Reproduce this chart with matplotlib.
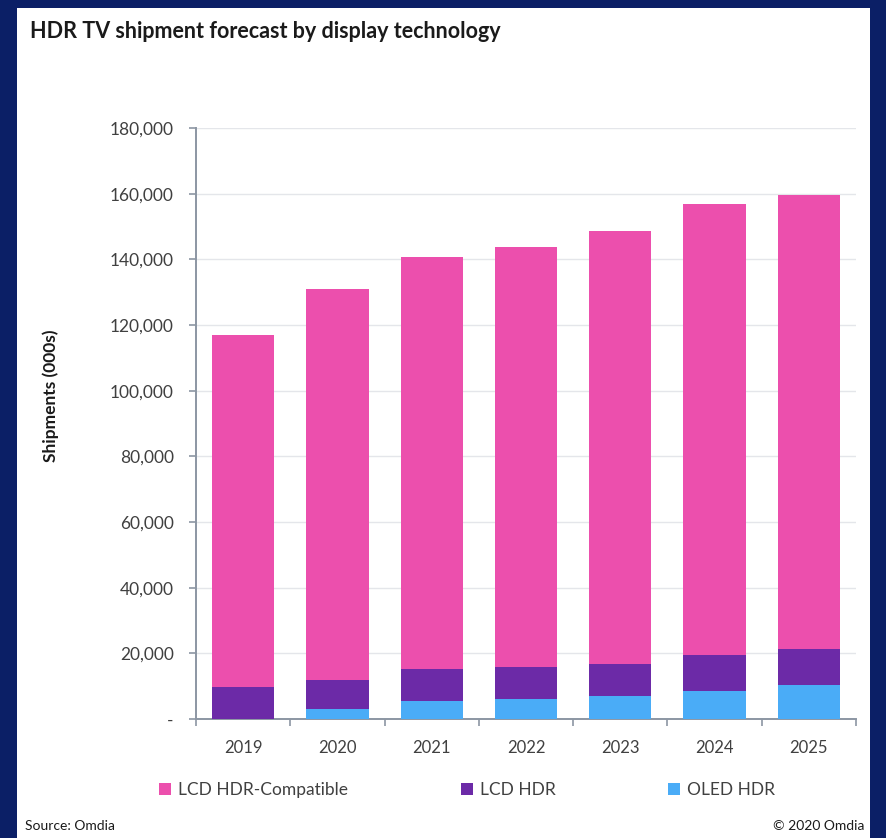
import matplotlib.pyplot as plt
from matplotlib.patches import Rectangle
from matplotlib.ticker import FuncFormatter
import numpy as np

plt.rcParams["font.family"] = ["Lato", "DejaVu Sans"]

NAVY = "#0b1f66"
PINK = "#ec4fad"
PURPLE = "#6c2aa7"
BLUE = "#4aacf7"
AXIS = "#8c96a3"
TXT = "#404040"

years = ["2019", "2020", "2021", "2022", "2023", "2024", "2025"]
oled_hdr = [0, 3100, 5400, 6200, 7100, 8500, 10300]
lcd_hdr = [9700, 8900, 9700, 9700, 9700, 11000, 10900]
lcd_hdr_compatible = [107400, 118900, 125500, 127900, 131800, 137500, 138400]
y_ticks = [0, 20000, 40000, 60000, 80000, 100000, 120000, 140000, 160000, 180000]

W, H = 887, 838
fig = plt.figure(figsize=(W / 100, H / 100), dpi=100)
fig.patch.set_facecolor(NAVY)

# white panel inside the navy frame
fig.add_artist(Rectangle((17 / W, 0), (870 - 17) / W, (H - 8) / H,
                         transform=fig.transFigure, facecolor="white",
                         edgecolor="none", zorder=0))

ax = fig.add_axes([196 / W, (H - 719) / H, 660 / W, (719 - 128) / H])
ax.set_facecolor("none")

x = np.arange(len(years))
w = 0.66
oled = np.array(oled_hdr)
lcd = np.array(lcd_hdr)
comp = np.array(lcd_hdr_compatible)

ax.bar(x, oled, w, color=BLUE, zorder=3, label="OLED HDR")
ax.bar(x, lcd, w, bottom=oled, color=PURPLE, zorder=3, label="LCD HDR")
ax.bar(x, comp, w, bottom=oled + lcd, color=PINK, zorder=3, label="LCD HDR-Compatible")

ax.set_xlim(-0.5, len(years) - 0.5)
ax.set_ylim(0, 180000)
ax.set_yticks(y_ticks)
ax.yaxis.set_major_formatter(FuncFormatter(lambda v, p: "-" if v == 0 else f"{int(v):,}"))
ax.grid(axis="y", color="#e4e6ea", linewidth=1.0, zorder=0)

ax.set_xticks(x)
ax.set_xticklabels(years)
ax.set_xticks(np.arange(-0.5, len(years)), minor=True)
ax.tick_params(axis="x", which="major", length=0, pad=15, labelsize=12, labelcolor=TXT)
ax.tick_params(axis="x", which="minor", length=5, width=1.2, color=AXIS)
ax.tick_params(axis="y", length=5, width=1.2, color=AXIS, pad=11, labelsize=12.5, labelcolor=TXT)

for s in ["top", "right"]:
    ax.spines[s].set_visible(False)
for s in ["left", "bottom"]:
    ax.spines[s].set_color(AXIS)
    ax.spines[s].set_linewidth(1.4)

fig.text(30 / W, 1 - 32 / H, "HDR TV shipment forecast by display technology",
         fontsize=15.5, weight="bold", color="#1a1a1a", ha="left", va="center")
fig.text(51 / W, 1 - 396 / H, "Shipments (000s)", rotation=90, fontsize=12.5,
         weight="bold", color="#1a1a1a", ha="center", va="center")

handles, labels = ax.get_legend_handles_labels()
fig.legend(handles[::-1], labels[::-1], ncol=3, loc="center left",
           bbox_to_anchor=(143 / W, 1 - 790 / H), frameon=False, fontsize=12.5,
           handlelength=0.7, handleheight=0.7, handletextpad=0.4,
           columnspacing=6.5, labelcolor=TXT)

fig.text(25 / W, 1 - 826 / H, "Source: Omdia", fontsize=10, color="#1a1a1a",
         ha="left", va="center")
fig.text(864 / W, 1 - 826 / H, "\u00a9 2020 Omdia", fontsize=10, color="#1a1a1a",
         ha="right", va="center")

fig.savefig("out.png", dpi=100, facecolor=NAVY)
